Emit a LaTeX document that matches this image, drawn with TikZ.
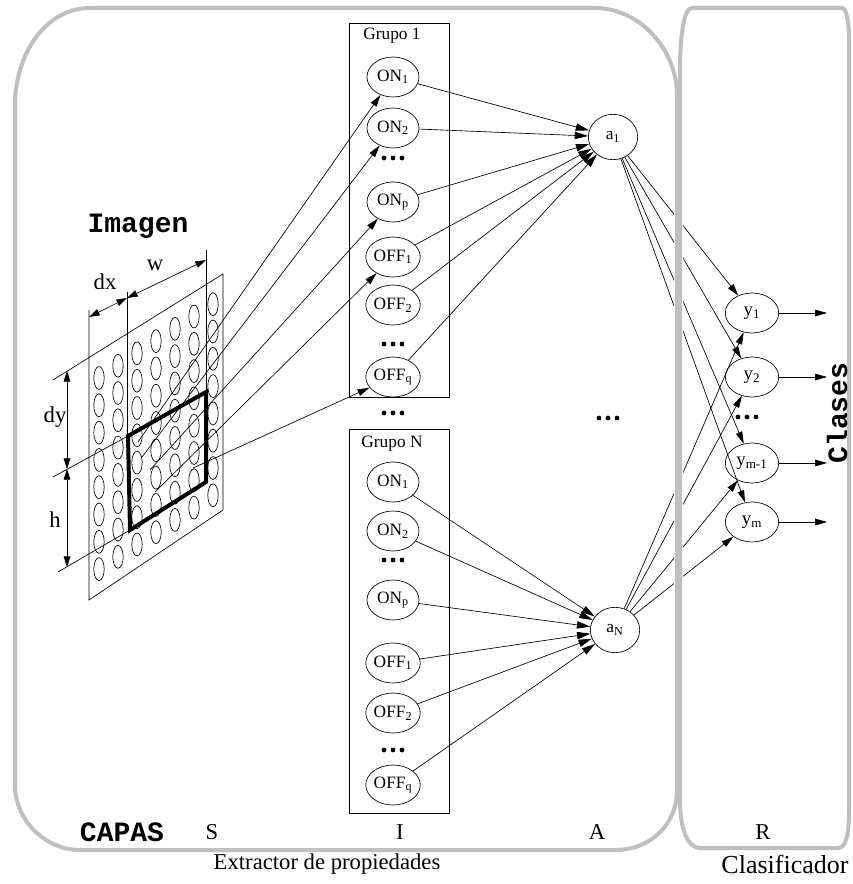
\documentclass[tikz,border=0pt]{standalone}
\usepackage{fontspec}
\setmainfont{Liberation Serif}
\newfontfamily\monob{Liberation Mono}
\usetikzlibrary{arrows.meta,shapes.geometric}
\begin{document}
\begin{tikzpicture}[x=0.75pt,y=-0.75pt,
  unit/.style={ellipse,draw,line width=0.5pt,minimum width=39pt,minimum height=30pt,inner sep=0pt,font=\fontsize{13}{14}\selectfont},
  anode/.style={ellipse,draw,line width=0.5pt,minimum width=37pt,minimum height=34pt,inner sep=0pt,font=\fontsize{13}{14}\selectfont},
  ynode/.style={ellipse,draw,line width=0.5pt,minimum width=40pt,minimum height=30pt,inner sep=0pt,font=\fontsize{14}{15}\selectfont},
  grp/.style={draw,line width=0.7pt},
  arr/.style={-{Triangle[length=9pt,width=5pt]},line width=0.5pt},
  arrin/.style={-{Triangle[length=10pt,width=5.5pt]},line width=0.5pt},
  dimarr/.style={{Triangle[length=8pt,width=5pt]}-{Triangle[length=8pt,width=5pt]},line width=0.5pt},
  thinl/.style={line width=0.5pt},
  thickwin/.style={line width=3pt,line join=miter},
  frm/.style={draw=black!25,line width=3pt},
  halo/.style={draw=white,line width=4.5pt},
  mono/.style={font=\monob\bfseries\fontsize{21}{23}\selectfont},
  lbl/.style={font=\fontsize{17}{19}\selectfont},
  grplbl/.style={font=\fontsize{13}{14}\selectfont}
]
\useasboundingbox (0,0) rectangle (852,884);
\fill[white] (0,0) rectangle (852,884);

% ---------------- image S ----------------
\node[mono] (imagen) at (138,226) {Imagen};
% parallelogram
\draw[thinl] (53,380) -- (223,274) -- (223,510) -- (89,600) -- (89,310);
% vertical extension lines
\draw[thinl] (127,292) -- (127,436);
\draw[thinl] (206,250) -- (206,392);
% extension lines of the window
\draw[thinl] (53,477) -- (128,436);
\draw[thinl] (58,572) -- (130,530);
% ovals
\foreach \i in {0,...,6}
  \foreach \j in {0,...,7}
    \draw[thinl] ({99+19*\i},{378-12.3*\i+27.3*\j}) ellipse[x radius=3.9pt, y radius=8.6pt];
% thick window
\draw[thickwin] (128,436) -- (206,392) -- (206,482) -- (130,530) -- cycle;
% dimension arrows
\coordinate (dxa) at (89,317);
\coordinate (dxb) at (127,298);
\coordinate (wb) at (206,260);
\draw[dimarr] (dxa) -- (dxb);
\draw[dimarr] (dxb) -- (wb);
\node[lbl] (dxl) at (105,282) {dx};
\node[lbl] (wl) at (155,265) {w};
\coordinate (dya) at (67,371);
\coordinate (dyb) at (67,469);
\coordinate (hb) at (67,567);
\draw[dimarr] (dya) -- (dyb);
\draw[dimarr] (dyb) -- (hb);
\node[lbl] (dyl) at (55,417) {dy};
\node[lbl] (hl) at (55,520) {h};

% ---------------- groups I ----------------
\draw[grp] (349,23) rectangle (449,397);
\draw[grp] (349,429) rectangle (449,813);
\node[grplbl] (g1lbl) at (392,36) {Grupo 1};
\node[grplbl] (gNlbl) at (392,444) {Grupo N};

\node[unit] (g1a) at (393,77)  {ON\textsubscript{1}};
\node[unit] (g1b) at (393,128) {ON\textsubscript{2}};
\node[unit] (g1c) at (393,202) {ON\textsubscript{p}};
\node[unit] (g1d) at (393,257) {OFF\textsubscript{1}};
\node[unit] (g1e) at (393,305) {OFF\textsubscript{2}};
\node[unit] (g1f) at (393,377) {OFF\textsubscript{q}};

\node[unit] (gNa) at (393,482) {ON\textsubscript{1}};
\node[unit] (gNb) at (393,531) {ON\textsubscript{2}};
\node[unit] (gNc) at (393,600) {ON\textsubscript{p}};
\node[unit] (gNd) at (393,663) {OFF\textsubscript{1}};
\node[unit] (gNe) at (393,713) {OFF\textsubscript{2}};
\node[unit] (gNf) at (393,785) {OFF\textsubscript{q}};

% dots
\foreach \cx/\cy in {393/158,393/344,393/413,393/560,393/750,608/418,747/417}
  \foreach \dx in {-9,0,9}
    \fill ({\cx+\dx},\cy) circle[radius=1.8pt];

% ---------------- A and R ----------------
\node[anode] (a1) at (613,137) {a\textsubscript{1}};
\node[anode] (aN) at (615,630) {a\textsubscript{N}};

\node[ynode] (y1) at (752,313) {y\textsubscript{1}};
\node[ynode] (y2) at (752,377) {y\textsubscript{2}};
\node[ynode] (y3) at (752,463) {y\textsubscript{m-1}};
\node[ynode] (y4) at (752,522) {y\textsubscript{m}};

\coordinate (o1) at (827,313);
\coordinate (o2) at (827,377);
\coordinate (o3) at (827,463);
\coordinate (o4) at (827,522);

% ---------------- connectors ----------------
\coordinate (s1) at (138,442);
\coordinate (s2) at (142,457);
\coordinate (s3) at (150,470);
\coordinate (s4) at (155,492);
\coordinate (s5) at (193,468);
\foreach \s/\t in {s1/g1a,s2/g1b,s3/g1c,s4/g1d,s5/g1f}
  \draw[arr] (\s) -- (\t);

\foreach \n in {a,b,c,d,e,f}{
  \draw[arrin] (g1\n) -- (a1);
  \draw[arrin] (gN\n) -- (aN);
}
\foreach \y in {y1,y2,y3,y4}{
  \draw[arr] (a1) -- (\y);
  \draw[arr] (aN) -- (\y);
}
\foreach \y/\o in {y1/o1,y2/o2,y3/o3,y4/o4}
  \draw[arr] (\y) -- (\o);

% ---------------- frames ----------------
\def\leftframe{(90,8) -- (595,8) .. controls (640,8) and (677,50) .. (677,95) -- (677,790) .. controls (677,825) and (650,850) .. (615,850) -- (80,850) .. controls (45,850) and (15,820) .. (15,785) -- (15,105) .. controls (15,55) and (45,8) .. (90,8) -- cycle}
\def\rightframe{(692,8) -- (842,8) .. controls (846,8) and (849,20) .. (849,40) -- (849,810) .. controls (849,835) and (846,848) .. (838,848) -- (700,848) .. controls (688,848) and (680,830) .. (680,800) -- (680,70) .. controls (680,35) and (684,8) .. (692,8) -- cycle}
\path[halo] \leftframe;
\path[halo] \rightframe;
\path[frm] \leftframe;
\path[frm] \rightframe;

\node[mono,rotate=90] (clases) at (837,413) {Clases};

% ---------------- bottom labels ----------------
\node[mono] (capas) at (122,832) {CAPAS};
\node[lbl] (ls) at (212,832) {S};
\node[lbl] (li) at (400,832) {I};
\node[lbl] (la) at (597,832) {A};
\node[lbl] (lr) at (763,832) {R};
\node[font=\fontsize{17}{19}\selectfont] (ext) at (327,864) {Extractor de propiedades};
\node[font=\fontsize{19.5}{21}\selectfont] (cla) at (785,864) {Clasificador};
\end{tikzpicture}
\end{document}
